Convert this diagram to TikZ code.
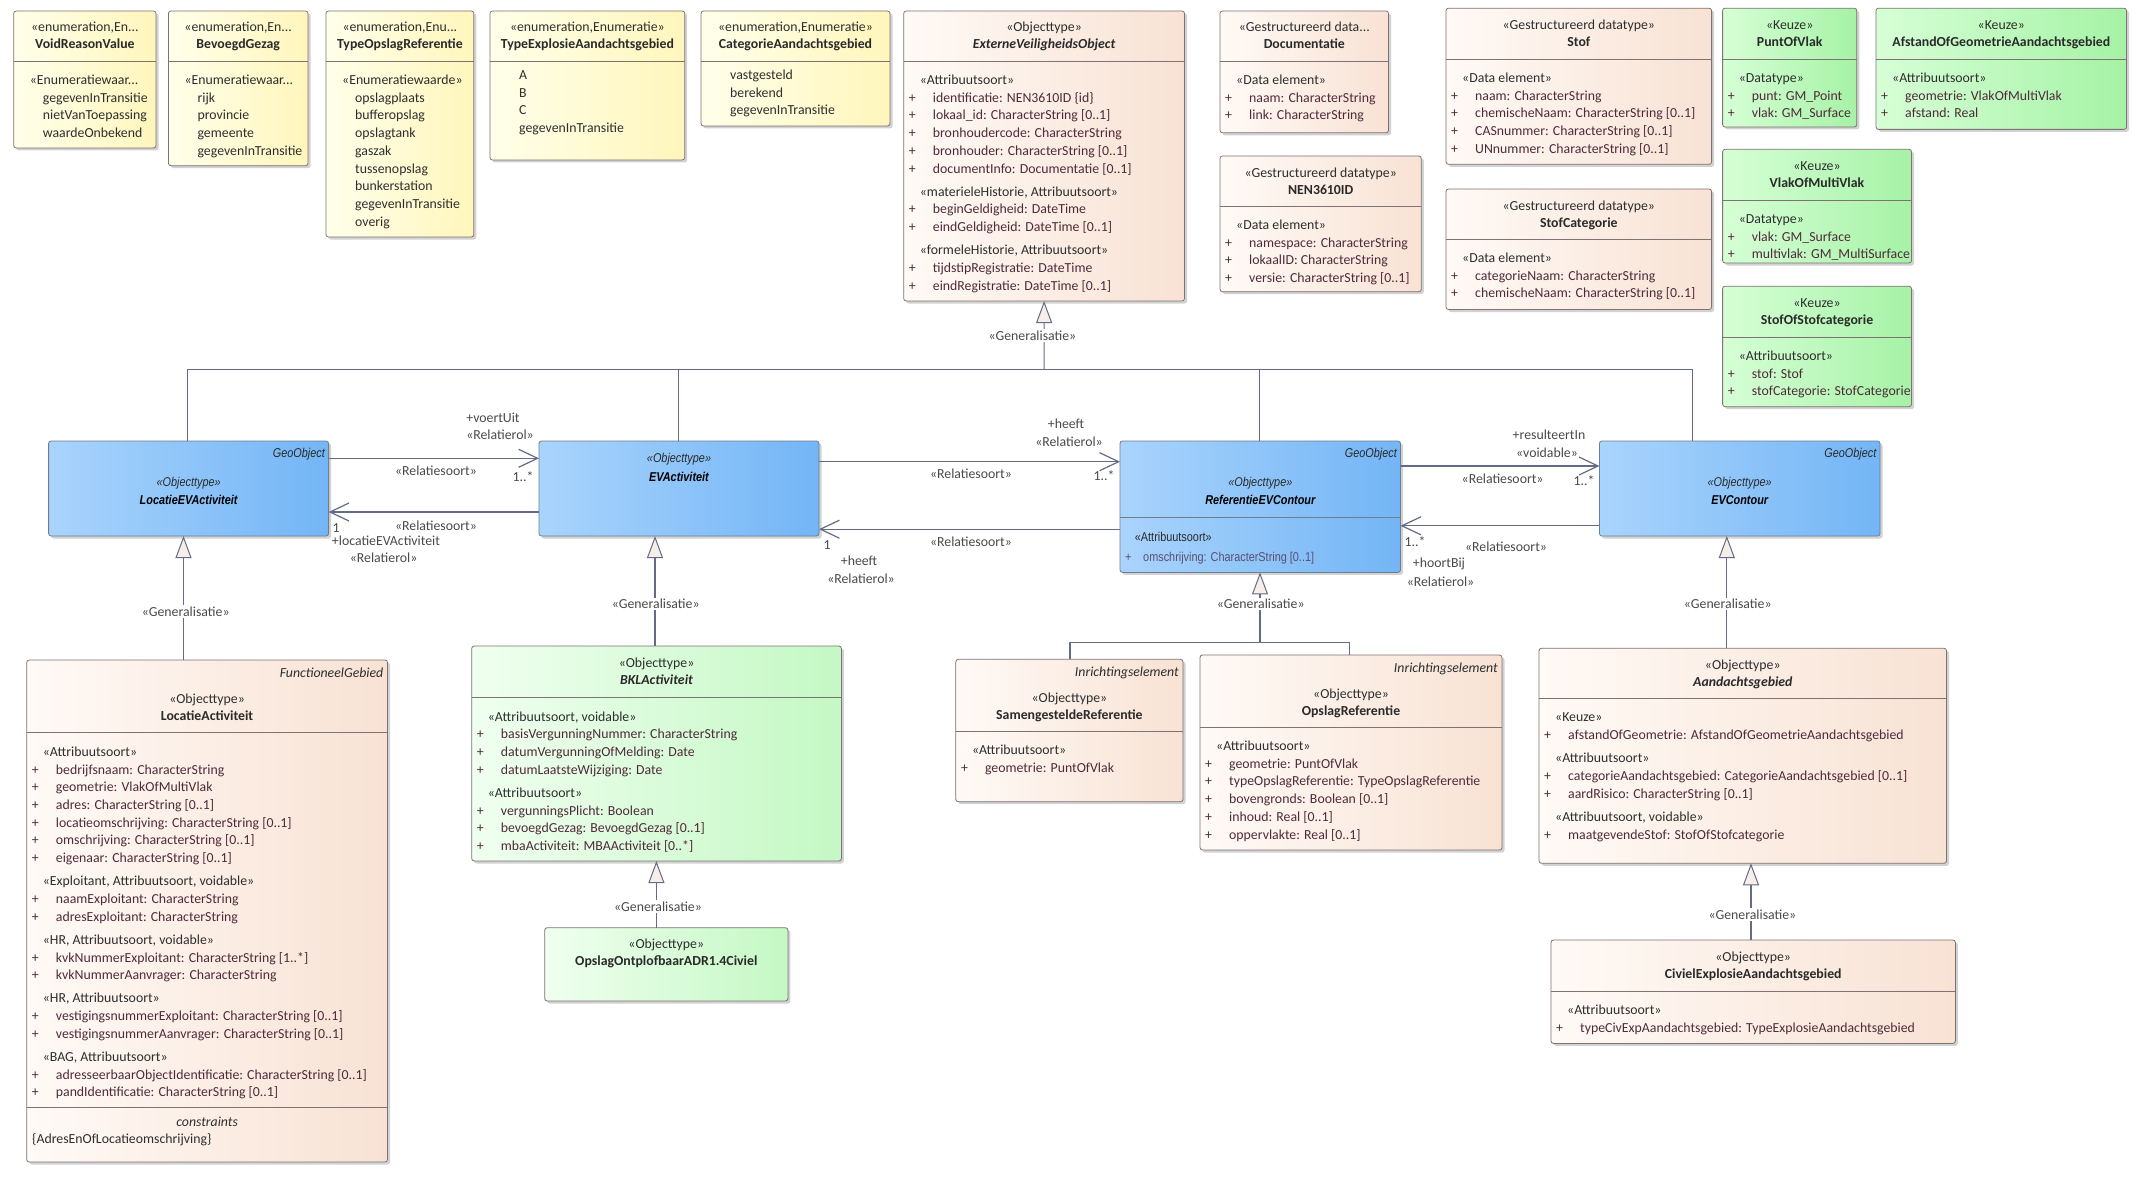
\documentclass[tikz,border=0pt]{standalone}
\usepackage{fontspec}
\setmainfont{Carlito}
\newfontfamily\narrowf[FakeStretch=0.85]{Liberation Sans}
\usetikzlibrary{fit,shadows,arrows.meta}
\definecolor{enumL}{HTML}{FFFFEA}
\definecolor{enumR}{HTML}{FFF6BC}
\definecolor{objL}{HTML}{FFFAF6}
\definecolor{objR}{HTML}{F8E2D4}
\definecolor{keuL}{HTML}{D6FFD6}
\definecolor{keuR}{HTML}{A6F2A6}
\definecolor{bklL}{HTML}{F0FFF0}
\definecolor{bklR}{HTML}{C4F8C4}
\definecolor{bluL}{HTML}{A9D4FC}
\definecolor{bluR}{HTML}{73B5F6}
\definecolor{bordc}{HTML}{7E7272}
\definecolor{bbordc}{HTML}{6E7E90}
\definecolor{txtc}{HTML}{2E2E2E}
\definecolor{attc}{HTML}{4F2A3A}
\definecolor{namec}{HTML}{2A2A2A}
\definecolor{lblc}{HTML}{4A4A4A}
\definecolor{connc}{HTML}{646B86}
\definecolor{genf}{HTML}{F7EEEA}
\definecolor{battc}{HTML}{5C4E70}
\newcommand\F{\fontsize{13.8pt}{17.7pt}\selectfont}
\newcommand\FB{\narrowf\fontsize{12.8pt}{17pt}\selectfont}
\newcommand\ua[1]{\strut{\color{attc}\makebox[24pt][l]{+}#1}}
\newcommand\uh[1]{\strut\hspace*{11pt}#1}
\newcommand\ulit[1]{\strut\hspace*{24pt}#1}
\newcommand\umlbox[6]{\path (#3,#4) coordinate (#1-nw) (#5,#6) coordinate (#1-se);
  \node[#2, fit=(#1-nw)(#1-se)] (#1) {};}
\newcommand\cdiv[2]{\path (0,#2) coordinate (dv); \draw[divl] (#1.west |- dv) -- (#1.east |- dv);}
\newcommand\bdiv[2]{\path (0,#2) coordinate (dv); \draw[bdivl] (#1.west |- dv) -- (#1.east |- dv);}
\newcommand\hdr[5]{\node[stl] (#1-st) at ({#2},{#3+21}) {#4}; \node[nml] (#1-nm) at ({#2},{#3+38}) {#5};}
\newcommand\hdrt[7]{\node[tagl] (#1-tg) at ({#4-4},{#3+17}) {#5};
  \node[stl] (#1-st) at ({#2},{#3+43}) {#6}; \node[nml] (#1-nm) at ({#2},{#3+60.5}) {#7};}
\newcommand\cmp[4]{\node[cmp] (#1-c) at ({#2+5},{#3}) {#4};}
\begin{document}
\begin{tikzpicture}[x=1pt,y=-1pt,
  cls/.style={draw=bordc, line width=0.8pt, rounded corners=2.5pt, inner sep=0pt, outer sep=0pt,
    drop shadow={shadow xshift=2.5pt, shadow yshift=-2.5pt, opacity=0.25, fill=black!70}},
  enumc/.style={cls, left color=enumL, right color=enumR},
  objc/.style={cls, left color=objL, right color=objR},
  keuc/.style={cls, left color=keuL, right color=keuR},
  bklc/.style={cls, left color=bklL, right color=bklR},
  bluec/.style={cls, draw=bbordc, left color=bluL, right color=bluR},
  divl/.style={draw=bordc, line width=0.8pt},
  bdivl/.style={draw=bbordc, line width=0.8pt},
  stl/.style={font=\F, text=txtc, inner sep=0pt, anchor=base},
  nml/.style={font=\F\bfseries, text=namec, inner sep=0pt, anchor=base},
  tagl/.style={font=\F\itshape, text=txtc, inner sep=0pt, anchor=base east},
  cmp/.style={font=\F, text=txtc, inner sep=0pt, anchor=north west, align=left},
  bst/.style={font=\FB\itshape, text=namec, inner sep=0pt, anchor=base},
  bnm/.style={font=\FB\itshape\bfseries, text=black, inner sep=0pt, anchor=base},
  btag/.style={font=\FB\itshape, text=namec, inner sep=0pt, anchor=base east},
  bat/.style={font=\FB, text=battc, inner sep=0pt, anchor=base west},
  conn/.style={draw=connc, line width=1.2pt},
  assoc/.style={conn, -{Straight Barb[length=19pt,width=18pt,line width=1.2pt]}},
  genl/.style={conn, -{Triangle[length=22pt,width=16pt,fill=genf,line width=1pt]}},
  lbl/.style={font=\F, text=lblc, inner sep=0pt},
  glbl/.style={font=\F, text=lblc, fill=white, inner sep=1.5pt}]
\fill[white] (0,0) rectangle (2147,1180);
\useasboundingbox (0,0) rectangle (2147,1180);
% ---------- enumerations ----------
\umlbox{vr}{enumc}{13.7}{11}{156}{148}
\cdiv{vr}{61}
\hdr{vr}{84.9}{11}{«enumeration,En...}{VoidReasonValue}
\cmp{vr}{13.7}{72}{\uh{«Enumeratiewaar...}\\\ulit{gegevenInTransitie}\\\ulit{nietVanToepassing}\\\ulit{waardeOnbekend}}
\umlbox{bg}{enumc}{168.4}{11}{308}{165.7}
\cdiv{bg}{61}
\hdr{bg}{238.2}{11}{«enumeration,En...}{BevoegdGezag}
\cmp{bg}{168.4}{72}{\uh{«Enumeratiewaar...}\\\ulit{rijk}\\\ulit{provincie}\\\ulit{gemeente}\\\ulit{gegevenInTransitie}}
\umlbox{tor}{enumc}{326}{11}{473.8}{237}
\cdiv{tor}{61}
\hdr{tor}{399.9}{11}{«enumeration,Enu...}{TypeOpslagReferentie}
\cmp{tor}{326}{72}{\uh{«Enumeratiewaarde»}\\\ulit{opslagplaats}\\\ulit{bufferopslag}\\\ulit{opslagtank}\\\ulit{gaszak}\\\ulit{tussenopslag}\\\ulit{bunkerstation}\\\ulit{gegevenInTransitie}\\\ulit{overig}}
\umlbox{tea}{enumc}{490}{11}{684.7}{160}
\cdiv{tea}{61}
\hdr{tea}{587.4}{11}{«enumeration,Enumeratie»}{TypeExplosieAandachtsgebied}
\cmp{tea}{490}{67}{\ulit{A}\\\ulit{B}\\\ulit{C}\\\ulit{gegevenInTransitie}}
\umlbox{cat}{enumc}{701}{11}{890}{126}
\cdiv{cat}{61}
\hdr{cat}{795.5}{11}{«enumeration,Enumeratie»}{CategorieAandachtsgebied}
\cmp{cat}{701}{67}{\ulit{vastgesteld}\\\ulit{berekend}\\\ulit{gegevenInTransitie}}
% ---------- ExterneVeiligheidsObject ----------
\umlbox{evo}{objc}{903.7}{11}{1184.5}{301}
\cdiv{evo}{61}
\hdr{evo}{1044.1}{11}{«Objecttype»}{\textit{ExterneVeiligheidsObject}}
\cmp{evo}{903.7}{72}{\uh{«Attribuutsoort»}\\\ua{identificatie: NEN3610ID \{id\}}\\\ua{lokaal\_id: CharacterString [0..1]}\\\ua{bronhoudercode: CharacterString}\\\ua{bronhouder: CharacterString [0..1]}\\\ua{documentInfo: Documentatie [0..1]}\\[5.5pt]\uh{«materieleHistorie, Attribuutsoort»}\\\ua{beginGeldigheid: DateTime}\\\ua{eindGeldigheid: DateTime [0..1]}\\[5.5pt]\uh{«formeleHistorie, Attribuutsoort»}\\\ua{tijdstipRegistratie: DateTime}\\\ua{eindRegistratie: DateTime [0..1]}}
% ---------- datatypes ----------
\umlbox{doc}{objc}{1220}{11}{1388.5}{132.8}
\cdiv{doc}{61}
\hdr{doc}{1304.3}{11}{«Gestructureerd data...}{Documentatie}
\cmp{doc}{1220}{72}{\uh{«Data element»}\\\ua{naam: CharacterString}\\\ua{link: CharacterString}}
\umlbox{nen}{objc}{1220}{156}{1421.3}{291.7}
\cdiv{nen}{206}
\hdr{nen}{1320.7}{156}{«Gestructureerd datatype»}{NEN3610ID}
\cmp{nen}{1220}{217}{\uh{«Data element»}\\\ua{namespace: CharacterString}\\\ua{lokaalID: CharacterString}\\\ua{versie: CharacterString [0..1]}}
\umlbox{stof}{objc}{1446}{8.2}{1711.6}{164.3}
\cdiv{stof}{59}
\hdr{stof}{1578.8}{8.2}{«Gestructureerd datatype»}{Stof}
\cmp{stof}{1446}{70}{\uh{«Data element»}\\\ua{naam: CharacterString}\\\ua{chemischeNaam: CharacterString [0..1]}\\\ua{CASnummer: CharacterString [0..1]}\\\ua{UNnummer: CharacterString [0..1]}}
\umlbox{stc}{objc}{1446}{189}{1711.6}{309.5}
\cdiv{stc}{239}
\hdr{stc}{1578.8}{189}{«Gestructureerd datatype»}{StofCategorie}
\cmp{stc}{1446}{250}{\uh{«Data element»}\\\ua{categorieNaam: CharacterString}\\\ua{chemischeNaam: CharacterString [0..1]}}
% ---------- keuze ----------
\umlbox{pov}{keuc}{1722.6}{8.2}{1856.8}{127}
\cdiv{pov}{59}
\hdr{pov}{1789.7}{8.2}{«Keuze»}{PuntOfVlak}
\cmp{pov}{1722.6}{70}{\uh{«Datatype»}\\\ua{punt: GM\_Point}\\\ua{vlak: GM\_Surface}}
\umlbox{aog}{keuc}{1876}{8.2}{2126.5}{129.4}
\cdiv{aog}{59}
\hdr{aog}{2001.3}{8.2}{«Keuze»}{AfstandOfGeometrieAandachtsgebied}
\cmp{aog}{1876}{70}{\uh{«Attribuutsoort»}\\\ua{geometrie: VlakOfMultiVlak}\\\ua{afstand: Real}}
\umlbox{vmv}{keuc}{1722.6}{149.3}{1911.5}{263}
\cdiv{vmv}{200}
\hdr{vmv}{1817}{149.3}{«Keuze»}{VlakOfMultiVlak}
\cmp{vmv}{1722.6}{211}{\uh{«Datatype»}\\\ua{vlak: GM\_Surface}\\\ua{multivlak: GM\_MultiSurface}}
\umlbox{sos}{keuc}{1722.6}{286.2}{1911.5}{406.7}
\cdiv{sos}{337}
\hdr{sos}{1817}{286.2}{«Keuze»}{StofOfStofcategorie}
\cmp{sos}{1722.6}{348}{\uh{«Attribuutsoort»}\\\ua{stof: Stof}\\\ua{stofCategorie: StofCategorie}}
% ---------- blue objecttypes ----------
\umlbox{lev}{bluec}{48.6}{441}{328.6}{536}
\node[btag] (lev-tg) at (325,457.5) {GeoObject};
\node[bst] (lev-st) at (188.6,486.5) {«Objecttype»};
\node[bnm] (lev-nm) at (188.6,504.5) {LocatieEVActiviteit};
\umlbox{eva}{bluec}{539}{441}{819}{536}
\node[bst] (eva-st) at (679,462.5) {«Objecttype»};
\node[bnm] (eva-nm) at (679,481) {EVActiviteit};
\umlbox{rec}{bluec}{1120}{441}{1400.5}{572.4}
\bdiv{rec}{517.3}
\node[btag] (rec-tg) at (1397,457.5) {GeoObject};
\node[bst] (rec-st) at (1260.3,486.5) {«Objecttype»};
\node[bnm] (rec-nm) at (1260.3,504.5) {ReferentieEVContour};
\node[bat, text=namec] (rec-h) at (1134.7,541.5) {«Attribuutsoort»};
\node[bat] (rec-a) at (1125,561.2) {\makebox[18pt][l]{+}omschrijving: CharacterString [0..1]};
\umlbox{evc}{bluec}{1599.4}{441}{1880}{536}
\node[btag] (evc-tg) at (1876.5,457.5) {GeoObject};
\node[bst] (evc-st) at (1739.7,486.5) {«Objecttype»};
\node[bnm] (evc-nm) at (1739.7,504.5) {EVContour};
% ---------- LocatieActiviteit ----------
\umlbox{la}{objc}{26.7}{660}{387.5}{1162}
\cdiv{la}{732.6}
\cdiv{la}{1107.8}
\hdrt{la}{207.1}{660}{387.5}{FunctioneelGebied}{«Objecttype»}{LocatieActiviteit}
\cmp{la}{26.7}{743.7}{\uh{«Attribuutsoort»}\\\ua{bedrijfsnaam: CharacterString}\\\ua{geometrie: VlakOfMultiVlak}\\\ua{adres: CharacterString [0..1]}\\\ua{locatieomschrijving: CharacterString [0..1]}\\\ua{omschrijving: CharacterString [0..1]}\\\ua{eigenaar: CharacterString [0..1]}\\[5.5pt]\uh{«Exploitant, Attribuutsoort, voidable»}\\\ua{naamExploitant: CharacterString}\\\ua{adresExploitant: CharacterString}\\[5.5pt]\uh{«HR, Attribuutsoort, voidable»}\\\ua{kvkNummerExploitant: CharacterString [1..*]}\\\ua{kvkNummerAanvrager: CharacterString}\\[5.5pt]\uh{«HR, Attribuutsoort»}\\\ua{vestigingsnummerExploitant: CharacterString [0..1]}\\\ua{vestigingsnummerAanvrager: CharacterString [0..1]}\\[5.5pt]\uh{«BAG, Attribuutsoort»}\\\ua{adresseerbaarObjectIdentificatie: CharacterString [0..1]}\\\ua{pandIdentificatie: CharacterString [0..1]}}
\node[stl, font=\F\itshape] (la-k) at (207.1,1126.5) {constraints};
\node[stl, anchor=base west] (la-kc) at (32,1143.5) {\{AdresEnOfLocatieomschrijving\}};
% ---------- BKL ----------
\umlbox{bkl}{bklc}{471.7}{646}{841.4}{861}
\cdiv{bkl}{697.7}
\hdr{bkl}{656.6}{646}{«Objecttype»}{\textit{BKLActiviteit}}
\cmp{bkl}{471.7}{708.7}{\uh{«Attribuutsoort, voidable»}\\\ua{basisVergunningNummer: CharacterString}\\\ua{datumVergunningOfMelding: Date}\\\ua{datumLaatsteWijziging: Date}\\[5.5pt]\uh{«Attribuutsoort»}\\\ua{vergunningsPlicht: Boolean}\\\ua{bevoegdGezag: BevoegdGezag [0..1]}\\\ua{mbaActiviteit: MBAActiviteit [0..*]}}
\umlbox{oo}{bklc}{544.7}{927.7}{787.9}{1001}
\hdr{oo}{666.3}{927.7}{«Objecttype»}{OpslagOntplofbaarADR1.4Civiel}
% ---------- referenties ----------
\umlbox{srf}{objc}{955.8}{659.3}{1183}{801.7}
\cdiv{srf}{731}
\hdrt{srf}{1069.4}{659.3}{1183}{Inrichtingselement}{«Objecttype»}{SamengesteldeReferentie}
\cmp{srf}{955.8}{742}{\uh{«Attribuutsoort»}\\\ua{geometrie: PuntOfVlak}}
\umlbox{opr}{objc}{1200}{655}{1502}{850}
\cdiv{opr}{727}
\hdrt{opr}{1351}{655}{1502}{Inrichtingselement}{«Objecttype»}{OpslagReferentie}
\cmp{opr}{1200}{738}{\uh{«Attribuutsoort»}\\\ua{geometrie: PuntOfVlak}\\\ua{typeOpslagReferentie: TypeOpslagReferentie}\\\ua{bovengronds: Boolean [0..1]}\\\ua{inhoud: Real [0..1]}\\\ua{oppervlakte: Real [0..1]}}
% ---------- Aandachtsgebied ----------
\umlbox{ag}{objc}{1539}{648.3}{1946.5}{863.3}
\cdiv{ag}{698.3}
\hdr{ag}{1742.8}{648.3}{«Objecttype»}{\textit{Aandachtsgebied}}
\cmp{ag}{1539}{709.3}{\uh{«Keuze»}\\\ua{afstandOfGeometrie: AfstandOfGeometrieAandachtsgebied}\\[5.5pt]\uh{«Attribuutsoort»}\\\ua{categorieAandachtsgebied: CategorieAandachtsgebied [0..1]}\\\ua{aardRisico: CharacterString [0..1]}\\[5.5pt]\uh{«Attribuutsoort, voidable»}\\\ua{maatgevendeStof: StofOfStofcategorie}}
\umlbox{cea}{objc}{1551}{940}{1955.4}{1043.4}
\cdiv{cea}{991}
\hdr{cea}{1753.2}{940}{«Objecttype»}{CivielExplosieAandachtsgebied}
\cmp{cea}{1551}{1002}{\uh{«Attribuutsoort»}\\\ua{typeCivExpAandachtsgebied: TypeExplosieAandachtsgebied}}
% ---------- generalisation tree from ExterneVeiligheidsObject ----------
\coordinate (gx1) at (187.5,369.7);
\coordinate (gx2) at (678.6,369.7);
\coordinate (gx3) at (1259.8,369.7);
\coordinate (gx4) at (1692.2,369.7);
\coordinate (gtop) at (1044.1,369.7);
\draw[conn] (lev.north -| gx1) -- (gx1) -- (gx4) -- (evc.north -| gx4);
\draw[conn] (eva.north -| gx2) -- (gx2);
\draw[conn] (rec.north -| gx3) -- (gx3);
\draw[genl] (gtop) -- (evo.south);
% ---------- associations ----------
\coordinate (ya1) at (0,458.3);
\coordinate (ya2) at (0,512);
\coordinate (ya3) at (0,461.7);
\coordinate (ya4) at (0,529.2);
\coordinate (ya5) at (0,466);
\coordinate (ya6) at (0,525.8);
\draw[assoc] (lev.east |- ya1) -- (eva.west |- ya1);
\draw[assoc] (eva.west |- ya2) -- (lev.east |- ya2);
\draw[assoc] (eva.east |- ya3) -- (rec.west |- ya3);
\draw[assoc] (rec.west |- ya4) -- (eva.east |- ya4);
\draw[assoc] (rec.east |- ya5) -- (evc.west |- ya5);
\draw[assoc] (evc.west |- ya6) -- (rec.east |- ya6);
% ---------- lower generalisations ----------
\coordinate (g1) at (183.5,0);
\coordinate (g2) at (655,0);
\coordinate (g4) at (1726.8,0);
\coordinate (g5) at (656.4,0);
\coordinate (g6) at (1751,0);
\coordinate (j3) at (1260,642.3);
\coordinate (j3l) at (1070,642.3);
\coordinate (j3r) at (1349.5,642.3);
\draw[genl] (la.north -| g1) -- (lev.south -| g1);
\draw[genl] (bkl.north -| g2) -- (eva.south -| g2);
\draw[conn] (srf.north -| j3l) -- (j3l) -- (j3r) -- (opr.north -| j3r);
\draw[genl] (j3) -- (rec.south -| j3);
\draw[genl] (ag.north -| g4) -- (evc.south -| g4);
\draw[genl] (oo.north -| g5) -- (bkl.south -| g5);
\draw[genl] (cea.north -| g6) -- (ag.south -| g6);
% ---------- labels ----------
\node[glbl] (gl0) at (1032.4,335.5) {«Generalisatie»};
\node[glbl] (gl1) at (185.7,611.7) {«Generalisatie»};
\node[glbl] (gl2) at (655.7,604) {«Generalisatie»};
\node[glbl] (gl3) at (1260.7,604) {«Generalisatie»};
\node[glbl] (gl4) at (1727.7,604) {«Generalisatie»};
\node[glbl] (gl5) at (658,906.7) {«Generalisatie»};
\node[glbl] (gl6) at (1752.4,914.3) {«Generalisatie»};
\node[lbl] (l1a) at (493,418) {+voertUit};
\node[lbl] (l1b) at (500,435) {«Relatierol»};
\node[lbl] (l1c) at (436,471) {«Relatiesoort»};
\node[lbl] (l1d) at (523,477) {1..*};
\node[lbl] (l2a) at (436,526) {«Relatiesoort»};
\node[lbl] (l2b) at (336,527.7) {1};
\node[lbl] (l2c) at (386,540.7) {+locatieEVActiviteit};
\node[lbl] (l2d) at (383.6,557.7) {«Relatierol»};
\node[lbl] (l3a) at (1066,424) {+heeft};
\node[lbl] (l3b) at (1069,442) {«Relatierol»};
\node[lbl] (l3c) at (971,474) {«Relatiesoort»};
\node[lbl] (l3d) at (1104,476) {1..*};
\node[lbl] (l4a) at (971,541.7) {«Relatiesoort»};
\node[lbl] (l4b) at (827,545) {1};
\node[lbl] (l4c) at (859,561) {+heeft};
\node[lbl] (l4d) at (861,579) {«Relatierol»};
\node[lbl] (l5a) at (1549,435) {+resulteertIn};
\node[lbl] (l5b) at (1547,452.7) {«voidable»};
\node[lbl] (l5c) at (1502.6,479) {«Relatiesoort»};
\node[lbl] (l5d) at (1584,481) {1..*};
\node[lbl] (l6a) at (1415,541.7) {1..*};
\node[lbl] (l6b) at (1506,546.7) {«Relatiesoort»};
\node[lbl] (l6c) at (1439,564) {+hoortBij};
\node[lbl] (l6d) at (1440.5,582) {«Relatierol»};
\end{tikzpicture}
\end{document}
